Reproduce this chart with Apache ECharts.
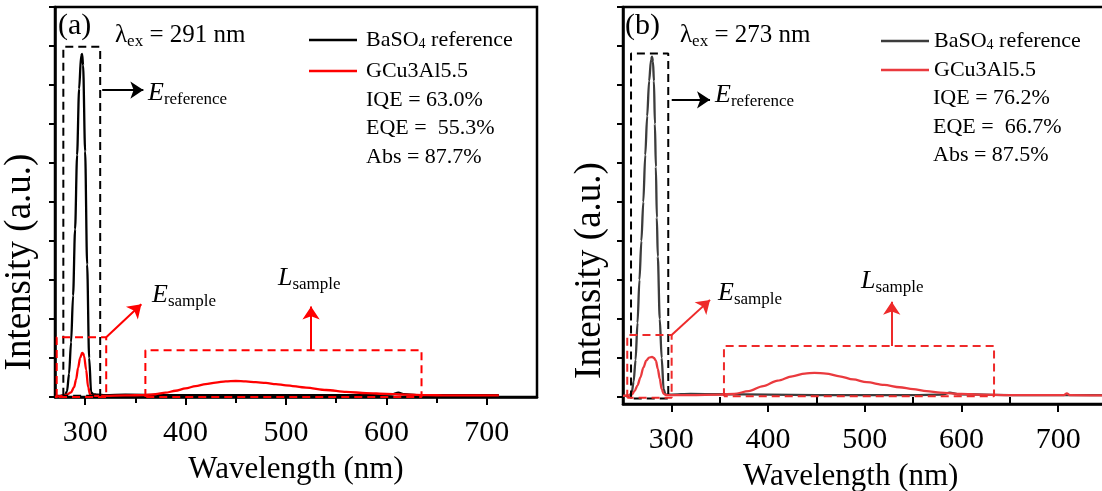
<!DOCTYPE html>
<html>
<head>
<meta charset="utf-8">
<script src="https://cdn.jsdelivr.net/npm/echarts@6/dist/echarts.min.js"></script>
<style>
  html, body { margin: 0; padding: 0; background: #fff; }
  #chart { width: 1102px; height: 491px; }
</style>
</head>
<body>
<div id="chart"></div>
<script>
'use strict';
const FONT = "'Liberation Serif', 'Times New Roman', serif";

// ---- panel (a), excitation 291 nm ----
const wlRefA = [270, 275, 280, 282, 284, 286, 288, 290, 292, 294, 296, 297, 298, 300, 302, 304, 306, 308, 312, 320, 340, 380, 450, 520, 580, 605, 612, 618, 630, 680, 712];
const intRefA = [0.03, 0.03, 0.05, 0.15, 0.6, 1.4, 2.6, 4.3, 6.2, 7.9, 8.75, 8.8, 8.5, 6.3, 3.4, 1.0, 0.12, 0.07, 0.06, 0.05, 0.06, 0.05, 0.05, 0.05, 0.05, 0.06, 0.11, 0.07, 0.05, 0.05, 0.05];
const wlSmpA = [270, 276, 282, 286, 289, 291, 293, 295, 297, 298, 299, 301, 303, 305, 307, 310, 320, 340, 360, 370, 380, 390, 400, 410, 420, 430, 440, 450, 460, 470, 480, 490, 500, 520, 540, 560, 580, 600, 620, 640, 660, 690, 712];
const intSmpA = [0.0, 0.02, 0.06, 0.12, 0.25, 0.45, 0.75, 1.0, 1.13, 1.12, 1.05, 0.7, 0.25, 0.06, 0.03, 0.03, 0.03, 0.04, 0.05, 0.07, 0.11, 0.16, 0.22, 0.28, 0.33, 0.37, 0.40, 0.41, 0.40, 0.38, 0.36, 0.33, 0.30, 0.24, 0.18, 0.13, 0.10, 0.08, 0.06, 0.05, 0.04, 0.04, 0.04];

// ---- panel (b), excitation 273 nm ----
const wlRefB = [250, 256, 259, 261, 263, 265, 267, 269, 271, 273, 275, 277, 279, 280, 281, 282, 283, 284, 285, 286, 288, 290, 292, 294, 300, 320, 350, 400, 450, 500, 550, 580, 588, 596, 650, 700, 750];
const intRefB = [0.03, 0.03, 0.1, 0.4, 0.95, 1.9, 3.0, 4.0, 5.0, 6.2, 7.2, 8.1, 8.65, 8.73, 8.6, 8.1, 7.0, 5.9, 4.6, 3.6, 2.0, 1.0, 0.2, 0.06, 0.06, 0.08, 0.07, 0.06, 0.05, 0.05, 0.05, 0.06, 0.11, 0.07, 0.05, 0.05, 0.05];
const wlSmpB = [250, 256, 259, 262, 265, 268, 271, 274, 277, 280, 282, 284, 286, 288, 290, 292, 295, 300, 320, 350, 365, 380, 395, 410, 425, 438, 448, 460, 474, 488, 502, 520, 536, 550, 564, 578, 600, 620, 650, 700, 706, 709, 712, 750];
const intSmpB = [0.03, 0.04, 0.06, 0.15, 0.3, 0.5, 0.75, 0.93, 1.01, 1.03, 1.0, 0.93, 0.72, 0.47, 0.2, 0.08, 0.05, 0.05, 0.05, 0.06, 0.08, 0.15, 0.28, 0.42, 0.53, 0.6, 0.62, 0.6, 0.53, 0.45, 0.38, 0.31, 0.25, 0.2, 0.15, 0.11, 0.08, 0.06, 0.05, 0.05, 0.05, 0.09, 0.05, 0.04];

// dashed boxes: [x1, x2, y1, y2] in nm / a.u.
const boxRefA = [278.3, 315, 0.03, 8.98];
const boxExA = [271.7, 321, 0, 1.53];
const boxEmA = [360, 635, 0, 1.2];
const boxRefB = [258.3, 296.8, -0.04, 8.81];
const boxExB = [254.4, 300.3, -0.02, 1.59];
const boxEmB = [354.4, 633.7, 0.02, 1.31];

// arrows: [[x1, y1], [x2, y2]]
const arrRefA = [[317, 7.87], [358, 7.87]];
const arrExA = [[321, 1.53], [356, 2.38]];
const arrEmA = [[525, 1.2], [525, 2.32]];
const arrRefB = [[300.4, 7.62], [340, 7.62]];
const arrExB = [[300.3, 1.59], [340, 2.49]];
const arrEmB = [[527.9, 1.31], [527.9, 2.44]];

const xTicks = [300, 400, 500, 600, 700];
const xMinor = [350, 450, 550, 650];
const yTicks = [0, 1, 2, 3, 4, 5, 6, 7, 8, 9, 10];

const legendNames = {
  refA: '{n|BaSO}{s|4}{n| reference}',
  smpA: '{n|GCu3Al5.5}',
  refB: '{n|BaSO}{s|4}{n| reference}',
  smpB: '{n|GCu3Al5.5}',
};

const pairs = (xs, ys) => xs.map((x, i) => [x, ys[i]]);
const rectPath = (b) => [[b[0], b[2]], [b[0], b[3]], [b[1], b[3]], [b[1], b[2]], [b[0], b[2]]];

function curve(name, xs, ys, color, xi, yi) {
  return {
    name,
    type: 'line',
    xAxisIndex: xi,
    yAxisIndex: yi,
    data: pairs(xs, ys),
    symbol: 'none',
    smooth: 0.3,
    smoothMonotone: 'x',
    lineStyle: { color, width: 2.3 },
    itemStyle: { color },
    z: 3,
  };
}

function box(b, color, xi, yi) {
  return {
    type: 'line',
    xAxisIndex: xi,
    yAxisIndex: yi,
    data: rectPath(b),
    symbol: 'none',
    silent: true,
    lineStyle: { color, width: 2, type: [8, 5] },
    z: 4,
  };
}

function arrow(a, color, xi, yi) {
  return {
    type: 'lines',
    coordinateSystem: 'cartesian2d',
    xAxisIndex: xi,
    yAxisIndex: yi,
    data: [{ coords: a }],
    symbol: ['none', 'arrow'],
    symbolSize: 13,
    silent: true,
    lineStyle: { color, width: 2, opacity: 1, curveness: 0 },
    z: 5,
  };
}

function xAxes(grid, min, max, namePad) {
  return [
    {
      gridIndex: grid,
      type: 'value',
      min,
      max,
      position: 'bottom',
      name: 'Wavelength (nm)',
      nameLocation: 'middle',
      nameGap: 57,
      nameTextStyle: { fontFamily: FONT, fontSize: 31, color: '#000', lineHeight: 31, padding: namePad },
      axisLine: { onZero: false, lineStyle: { color: '#000', width: 2.5 } },
      axisTick: { customValues: xTicks, inside: false, length: 8, lineStyle: { color: '#000', width: 2 } },
      axisLabel: { customValues: xTicks, fontFamily: FONT, fontSize: 30, color: '#000', margin: 21 },
      splitLine: { show: false },
    },
    {
      gridIndex: grid,
      type: 'value',
      min,
      max,
      position: 'bottom',
      axisLine: { show: false },
      axisTick: { customValues: xMinor, inside: false, length: 6, lineStyle: { color: '#000', width: 2 } },
      axisLabel: { show: false },
      splitLine: { show: false },
    },
  ];
}

function yAxis(grid, min, max, gap, shift) {
  return {
    gridIndex: grid,
    type: 'value',
    min,
    max,
    name: 'Intensity (a.u.)',
    nameLocation: 'middle',
    nameGap: gap,
    nameTextStyle: { fontFamily: FONT, fontSize: 37, color: '#000', lineHeight: 37, padding: [0, shift, 0, 0] },
    axisLine: { onZero: false, lineStyle: { color: '#000', width: 2.5 } },
    axisTick: { customValues: yTicks, inside: false, length: 6, lineStyle: { color: '#000', width: 2 } },
    axisLabel: { show: false },
    splitLine: { show: false },
  };
}

const legendRich = {
  n: { fontFamily: FONT, fontSize: 22, color: '#000', lineHeight: 22 },
  s: { fontFamily: FONT, fontSize: 14, color: '#000', lineHeight: 8, verticalAlign: 'bottom' },
};

function legend(names, left, top, gap, textPad) {
  return {
    data: names,
    orient: 'vertical',
    left,
    top,
    padding: 0,
    icon: 'rect',
    itemWidth: 48,
    itemHeight: 2.5,
    itemGap: gap,
    selectedMode: false,
    formatter: (n) => legendNames[n],
    textStyle: { rich: legendRich, padding: [0, 0, 0, textPad] },
  };
}

const textRich = {
  n: { fontFamily: FONT, fontSize: 25, fill: '#000', lineHeight: 30 },
  p: { fontFamily: FONT, fontSize: 30, fill: '#000', lineHeight: 30 },
  q: { fontFamily: FONT, fontSize: 22, fill: '#000', lineHeight: 26 },
  e: { fontFamily: FONT, fontSize: 26, fontStyle: 'italic', fill: '#000', lineHeight: 30 },
  s: { fontFamily: FONT, fontSize: 17, fill: '#000', lineHeight: 14, verticalAlign: 'bottom' },
};

function label(x, y, text) {
  return {
    type: 'text',
    x,
    y,
    silent: true,
    style: { text, rich: textRich, align: 'left', verticalAlign: 'middle' },
  };
}

const option = {
  backgroundColor: '#fff',
  animation: false,
  grid: [
    { left: 55, top: 7, width: 482, height: 390, show: true, borderColor: '#000', borderWidth: 2.5, outerBoundsMode: 'none' },
    { left: 623, top: 7, width: 483.5, height: 397, show: true, borderColor: '#000', borderWidth: 2.5, outerBoundsMode: 'none' },
  ],
  xAxis: [
    ...xAxes(0, 270, 750, [0, 0, 0, 0]),
    ...xAxes(1, 250, 750, [0, 28, 0, 0]),
  ],
  yAxis: [yAxis(0, 0, 10, 16, 120), yAxis(1, -0.18, 10, 14, 130)],
  legend: [
    legend(['refA', 'smpA'], 309, 29, 9, 4),
    legend(['refB', 'smpB'], 881, 30, 7, 0),
  ],
  series: [
    curve('refA', wlRefA, intRefA, '#000000', 0, 0),
    curve('smpA', wlSmpA, intSmpA, '#ff0000', 0, 0),
    curve('refB', wlRefB, intRefB, '#3c3c3c', 2, 1),
    curve('smpB', wlSmpB, intSmpB, '#ea3a3e', 2, 1),
    box(boxRefA, '#000', 0, 0),
    box(boxExA, '#ff0000', 0, 0),
    box(boxEmA, '#ff0000', 0, 0),
    box(boxRefB, '#000', 2, 1),
    box(boxExB, '#ee2a2a', 2, 1),
    box(boxEmB, '#ee2a2a', 2, 1),
    arrow(arrRefA, '#000', 0, 0),
    arrow(arrExA, '#ff0000', 0, 0),
    arrow(arrEmA, '#ff0000', 0, 0),
    arrow(arrRefB, '#000', 2, 1),
    arrow(arrExB, '#ee2a2a', 2, 1),
    arrow(arrEmB, '#ee2a2a', 2, 1),
  ],
  graphic: [
    label(58, 26, '{p|(a)}'),
    label(115, 35, '{n|λ}{s|ex}{n| = 291 nm}'),
    label(148, 93, '{e|E}{s|reference}'),
    label(152, 295, '{e|E}{s|sample}'),
    label(278, 278, '{e|L}{s|sample}'),
    label(366, 100, '{q|IQE = 63.0%}'),
    label(366, 128.5, '{q|EQE =  55.3%}'),
    label(366, 157, '{q|Abs = 87.7%}'),
    label(625, 26, '{p|(b)}'),
    label(680, 35, '{n|λ}{s|ex}{n| = 273 nm}'),
    label(715, 95, '{e|E}{s|reference}'),
    label(718, 293, '{e|E}{s|sample}'),
    label(861, 281, '{e|L}{s|sample}'),
    label(933, 98, '{q|IQE = 76.2%}'),
    label(933, 127, '{q|EQE =  66.7%}'),
    label(933, 155, '{q|Abs = 87.5%}'),
  ],
};

const myChart = echarts.init(document.getElementById('chart'));
myChart.setOption(option);
</script>
</body>
</html>
